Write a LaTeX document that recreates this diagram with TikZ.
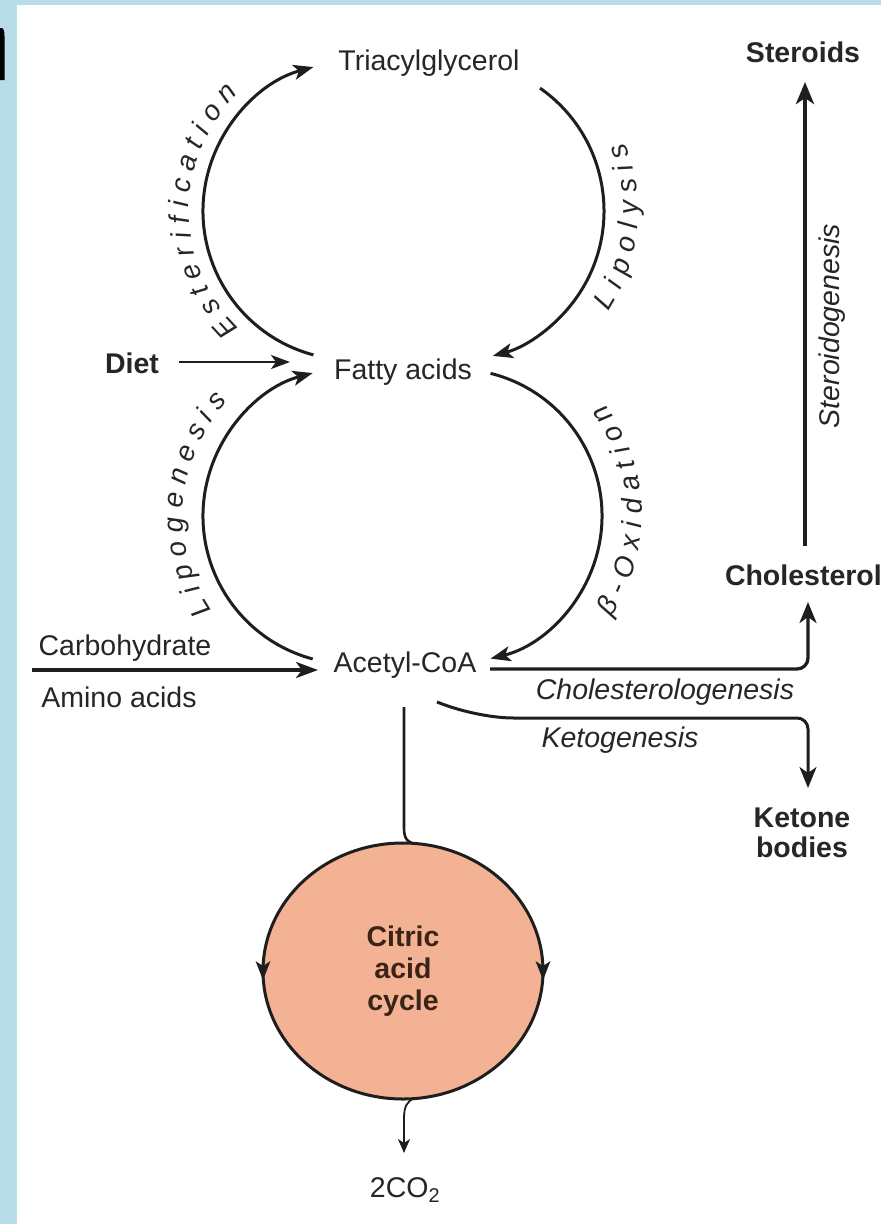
\documentclass[tikz,border=0pt]{standalone}
\usepackage{fontspec}
\setmainfont{Liberation Sans}
\usetikzlibrary{arrows.meta,decorations.text,shapes.geometric,calc}
\definecolor{framebl}{HTML}{B7DDE8}
\definecolor{txt}{HTML}{262626}
\definecolor{ln}{HTML}{1E1E1E}
\definecolor{tcafill}{HTML}{F4B294}
\definecolor{tcatext}{HTML}{3A2418}
\newcommand\lblfont{\fontsize{28.5pt}{31pt}\selectfont}
\newcommand\arcfont{\fontsize{28pt}{28pt}\selectfont\itshape}
\begin{document}
\begin{tikzpicture}[x=1pt,y=-1pt,
  lbl/.style={inner sep=0pt, outer sep=0pt, text=txt, font=\lblfont},
  blbl/.style={lbl, font=\lblfont\bfseries},
  ilbl/.style={lbl, font=\lblfont\itshape},
  flow/.style={draw=ln, line width=3pt, -{Stealth[length=20pt,width=15pt,inset=5pt]}},
  thinflow/.style={draw=ln, line width=2pt, -{Stealth[length=19pt,width=14pt,inset=5pt]}},
  bigflow/.style={draw=ln, line width=3.5pt, -{Stealth[length=22pt,width=16pt,inset=6pt]}},
  sideflow/.style={draw=ln, line width=3.3pt, rounded corners=11pt, -{Stealth[length=21pt,width=17pt,inset=6pt]}},
  sterflow/.style={draw=ln, line width=4pt, -{Stealth[length=22pt,width=18pt,inset=6pt]}},
  tcain/.style={draw=ln, line width=2.6pt},
  co2flow/.style={draw=ln, line width=1.8pt, -{Stealth[length=14pt,width=12pt,inset=4pt]}},
  circline/.style={draw=ln, line width=3pt},
  circtip/.style={fill=ln},
  arctext/.style={decorate, decoration={text along path, text color=txt, text align=fit to path}}
]
\useasboundingbox (0,0) rectangle (881,1224);
\fill[white] (0,0) rectangle (881,1224);
\fill[framebl] (0,0) rectangle (17,1224);
\fill[framebl] (0,0) rectangle (881,5);
\fill[black] (0,28) -- (1.5,28) .. controls (3.5,28) and (4.5,31) .. (4.5,36) -- (4.5,80) -- (0,80) -- cycle;

% ---- nodes
\node[lbl] (tag) at (429,63) {Triacylglycerol};
\node[blbl] (ster) at (803,52) {Steroids};
\node[blbl] (diet) at (132,363) {Diet};
\node[lbl] (fa) at (403,372) {Fatty acids};
\node[ilbl, rotate=90] (sterg) at (832,326) {Steroidogenesis};
\node[blbl, anchor=west] (chol) at (725,575) {Cholesterol};
\node[lbl] (carb) at (125,648) {Carbohydrate};
\node[lbl] (acoa) at (405,665) {Acetyl-CoA};
\node[lbl] (amino) at (119,697) {Amino acids};
\node[ilbl] (cholg) at (665,692) {Cholesterologenesis};
\node[ilbl] (ketg) at (620,740) {Ketogenesis};
\node[blbl, align=center, font=\fontsize{28.5pt}{30pt}\selectfont\bfseries] (keto) at (802,833) {Ketone\\bodies};
\node[ellipse, fill=tcafill, minimum width=280pt, minimum height=256pt, inner sep=0pt, outer sep=0pt,
      align=center, text=tcatext, font=\fontsize{28.5pt}{32pt}\selectfont\bfseries] (tca) at (403,971) {Citric\\acid\\cycle};
\node[lbl] (co2) at (405,1190) {2CO\textsubscript{2}};

% ---- arc centres and free ends
\coordinate (cTL) at (352,211);
\coordinate (cTR) at (454,211);
\coordinate (cBL) at (351,516);
\coordinate (cBR) at (455,516);
\coordinate (dietS) at (179,362);
\coordinate (dietT) at (290,362);
\coordinate (carbS) at (32,670);
\coordinate (carbT) at (318,670);
\coordinate (cg0) at (490,669);
\coordinate (cgC) at (808,669);
\coordinate (cholT) at (808,602);
\coordinate (kg0) at (437,702);
\coordinate (kgC) at (808,718);
\coordinate (ketT) at (808,788);
\coordinate (sterS) at (805,546);
\coordinate (sterT) at (805,82);
\coordinate (acoaS) at (404,707);
\coordinate (tcaTop) at (416,843.6);
\coordinate (tcaBot) at (414,1098.6);
\coordinate (co2T) at (404,1153);

% ---- cycle arcs
\draw[flow] ($(cTL)+(105:149)$) arc[start angle=105, end angle=255, radius=149];
\draw[flow] ($(cTR)+(-55:150)$) arc[start angle=-55, end angle=75, radius=150];
\draw[flow] ($(cBL)+(105:148)$) arc[start angle=105, end angle=255, radius=148];
\draw[flow] ($(cBR)+(-76:147)$) arc[start angle=-76, end angle=76, radius=147];

% ---- arc labels
\path[arctext, decoration={text={|\arcfont|Esterification}}] ($(cTL)+(134:163)$) arc[start angle=134, end angle=226, radius=163];
\path[arctext, decoration={text={|\arcfont|Lipogenesis}}] ($(cBL)+(146:168)$) arc[start angle=146, end angle=223, radius=168];
\path[arctext, decoration={text={|\arcfont|Lipolysis}}] ($(cTR)+(33:184)$) arc[start angle=33, end angle=-22, radius=184];
\path[arctext, decoration={text={|\arcfont|β-Oxidation}}] ($(cBR)+(33:187)$) arc[start angle=33, end angle=-37, radius=187];

% ---- straight connectors
\draw[thinflow] (dietS) -- (dietT);
\draw[bigflow] (carbS) -- (carbT);
\draw[sideflow] (cg0) -- (cgC) -- (cholT);
\draw[sideflow, line width=3pt] (kg0) .. controls (462,712) and (492,718) .. (525,718) -- (kgC) -- (ketT);
\draw[sterflow] (sterS) -- (sterT);

% ---- citric acid cycle
\draw[tcain] (acoaS) -- (404,828) .. controls (404,839) and (408,843.4) .. (tcaTop);
\draw[circline] (tca.north) arc[start angle=270, end angle=90, x radius=140, y radius=128];
\draw[circline] (tca.north) arc[start angle=-90, end angle=90, x radius=140, y radius=128];
\fill[circtip] ($(tca.west)+(0,9)$) -- ++(-7.5,-19) -- ++(7.5,5) -- ++(7.5,-5) -- cycle;
\fill[circtip] ($(tca.east)+(0,9)$) -- ++(-7.5,-19) -- ++(7.5,5) -- ++(7.5,-5) -- cycle;
\draw[co2flow] (tcaBot) .. controls (407,1101) and (404,1107) .. (404,1118) -- (co2T);
\end{tikzpicture}
\end{document}
